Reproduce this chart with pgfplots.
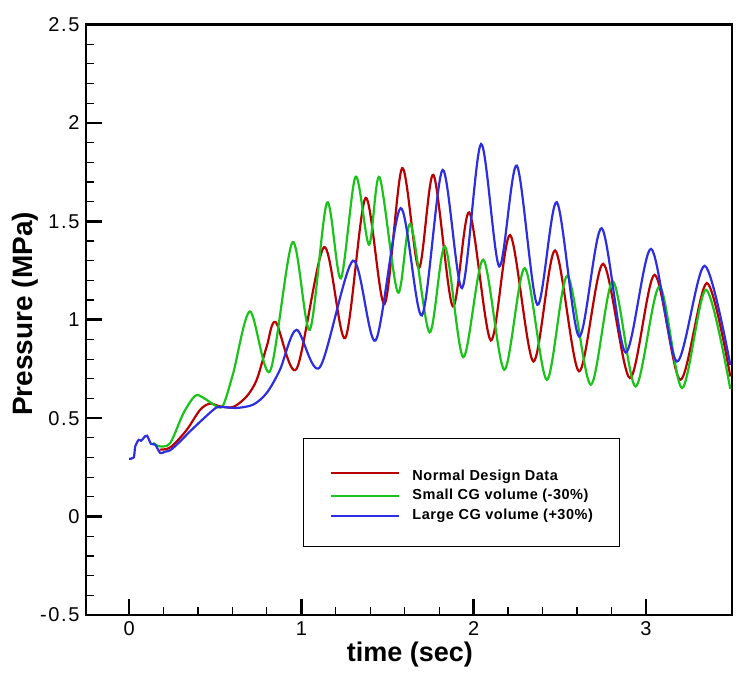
\documentclass[border=0pt]{standalone}
\usepackage{fontspec}
\setmainfont{Liberation Sans}
\newfontfamily\tickfont{Liberation Sans}[LetterSpace=8]
\newfontfamily\legfont{Liberation Sans}[LetterSpace=3.5]
\usepackage{pgfplots}
\pgfplotsset{compat=1.18}
\definecolor{cred}{RGB}{185,0,0}
\definecolor{cgreen}{RGB}{25,195,25}
\definecolor{cblue}{RGB}{45,45,225}
\begin{document}
\begin{tikzpicture}
\begin{axis}[
  scale only axis, width=646bp, height=590.5bp,
  xmin=-0.25, xmax=3.5, ymin=-0.5, ymax=2.5,
  xtick={0,1,2,3}, xticklabels={0,1,2,3},
  ytick={-0.5,0,0.5,1,1.5,2,2.5}, yticklabels={-0.5,0,0.5,1,1.5,2,2.5},
  minor x tick num=4, minor y tick num=4,
  tick pos=left, tick align=inside,
  major tick length=16bp, minor tick length=8bp,
  major tick style={line width=2.5bp, black},
  minor tick style={line width=1.2bp, black},
  axis line style={line width=2.7bp},
  tick label style={font=\tickfont\fontsize{20bp}{24bp}\selectfont},
  xticklabel style={yshift=-3bp},
  yticklabel style={xshift=-3bp},
  xlabel={time (sec)},
  ylabel={Pressure (MPa)},
  xlabel style={font=\bfseries\fontsize{27bp}{30bp}\selectfont, at={(rel axis cs:0.5015,-0.0677)}, anchor=center},
  ylabel style={font=\bfseries\fontsize{28bp}{32bp}\selectfont, at={(rel axis cs:-0.0944,0.51)}, anchor=center},
  legend style={at={(rel axis cs:0.3359,0.2997)}, anchor=north west, draw=black, line width=1bp, fill=white,
    inner xsep=27bp, inner ysep=24.5bp,
    font=\legfont\bfseries\fontsize{14.5bp}{16bp}\selectfont,
    nodes={inner sep=0pt, text height=10bp, text depth=3bp},
    row sep=6.5bp, cells={anchor=west},
    /tikz/row 1/.style={nodes={text height=17bp}},
    /tikz/every odd column/.append style={column sep=12bp}},
  legend image code/.code={\draw[#1, line width=2bp] (0bp,0bp) -- (68bp,0bp);},
]
\addplot[cred, line width=2.2bp, smooth] coordinates {
(0.177,0.340) (0.22,0.344) (0.258,0.365) (0.336,0.442) (0.413,0.543) (0.47,0.574)
(0.528,0.560) (0.605,0.557) (0.683,0.611) (0.741,0.695) (0.799,0.864) (0.851,0.988)
(0.972,0.750) (1.132,1.369) (1.255,0.907) (1.373,1.619) (1.483,1.080) (1.585,1.770)
(1.682,1.262) (1.767,1.736) (1.879,1.068) (1.975,1.545) (2.10,0.895) (2.212,1.430)
(2.347,0.788) (2.473,1.352) (2.612,0.738) (2.752,1.284) (2.907,0.704) (3.051,1.228)
(3.20,0.695) (3.354,1.186) (3.49,0.712)};
\addlegendentry{Normal Design Data}
\addplot[cgreen, line width=2.2bp, smooth] coordinates {
(0.14,0.375) (0.177,0.357) (0.239,0.374) (0.316,0.526) (0.384,0.614) (0.432,0.603)
(0.509,0.560) (0.548,0.569) (0.605,0.730) (0.702,1.042) (0.818,0.738) (0.949,1.394)
(1.049,0.949) (1.149,1.595) (1.229,1.210) (1.315,1.727) (1.393,1.381) (1.454,1.724)
(1.56,1.139) (1.634,1.486) (1.744,0.936) (1.834,1.372) (1.94,0.810) (2.056,1.305)
(2.178,0.746) (2.297,1.262) (2.425,0.695) (2.544,1.223) (2.68,0.670) (2.808,1.194)
(2.94,0.661) (3.079,1.169) (3.21,0.653) (3.349,1.152) (3.49,0.648)};
\addlegendentry{Small CG volume (-30\%)}
\addplot[cblue, line width=2.2bp, smooth] coordinates {
(0.0,0.294) (0.027,0.300) (0.036,0.357) (0.056,0.390) (0.07,0.385) (0.085,0.400)
(0.104,0.411) (0.127,0.370) (0.152,0.365) (0.181,0.323) (0.21,0.330) (0.239,0.337)
(0.287,0.374) (0.374,0.450) (0.49,0.543) (0.528,0.557) (0.625,0.552) (0.721,0.569)
(0.799,0.628) (0.876,0.746) (0.972,0.949) (1.107,0.758) (1.30,1.300) (1.431,0.895)
(1.576,1.567) (1.70,1.022) (1.82,1.761) (1.933,1.161) (2.043,1.893) (2.149,1.271)
(2.251,1.783) (2.37,1.076) (2.483,1.597) (2.612,0.915) (2.743,1.465) (2.882,0.834)
(3.03,1.360) (3.18,0.788) (3.341,1.274) (3.49,0.770)};
\addlegendentry{Large CG volume (+30\%)}
\end{axis}
\pgfresetboundingbox
\path[use as bounding box] ([xshift=-86bp,yshift=-64bp]current axis.south west) rectangle ([xshift=14bp,yshift=24.5bp]current axis.north east);
\end{tikzpicture}
\end{document}
